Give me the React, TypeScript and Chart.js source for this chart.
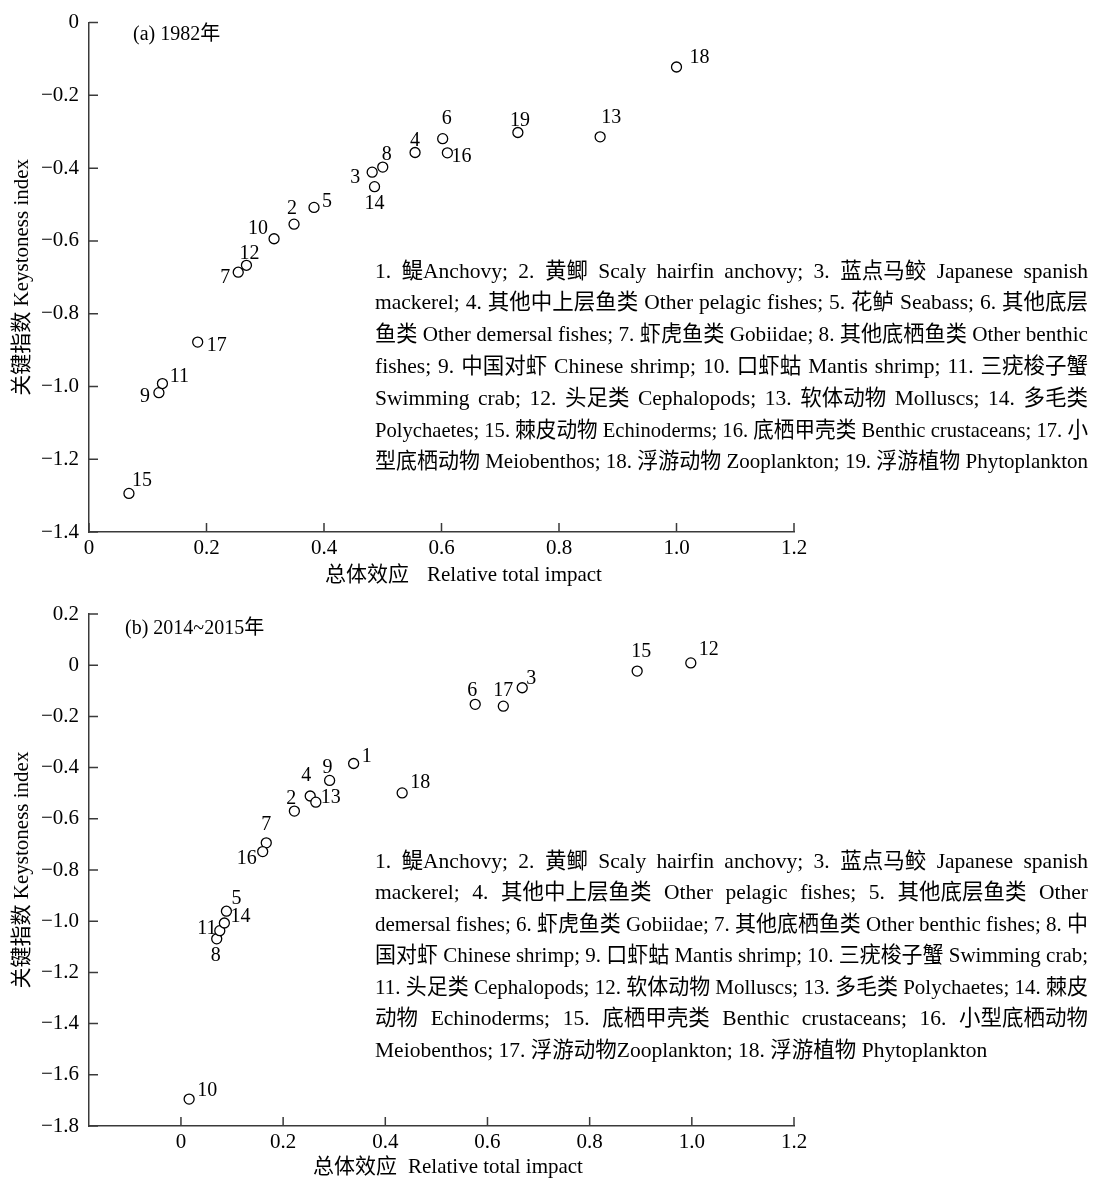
import React, { useEffect, useRef } from 'react';
import { Chart, registerables } from 'chart.js';

Chart.register(...registerables);

const SERIF = '"Liberation Serif", "Times New Roman", "Noto Sans CJK SC", serif';
const AXIS = '#3a3a3a';

// ---------- Panel (a) 1982 ----------
const labelsA = ['2', '3', '4', '5', '6', '7', '8', '9', '10', '11', '12', '13', '14', '15', '16', '17', '18', '19'];
const impactA = [0.349, 0.482, 0.555, 0.383, 0.602, 0.254, 0.5, 0.119, 0.315, 0.125, 0.268, 0.87, 0.486, 0.068, 0.61, 0.185, 1.0, 0.73];
const keystoneA = [-0.554, -0.411, -0.357, -0.508, -0.319, -0.686, -0.397, -1.017, -0.594, -0.992, -0.667, -0.314, -0.451, -1.294, -0.358, -0.878, -0.122, -0.302];
const labelOffsetsA: [number, number][] = [
  [-2, -15], [-17, 6], [0, -12], [13, -6], [4, -20], [-13, 6], [4, -12], [-14, 4], [-16, -10],
  [17, -7], [3, -12], [11, -19], [0, 17], [13, -13], [14, 4], [19, 4], [23, -9], [2, -12],
];
const xTicksA = [0, 0.2, 0.4, 0.6, 0.8, 1.0, 1.2];
const yTicksA = [0, -0.2, -0.4, -0.6, -0.8, -1.0, -1.2, -1.4];
const legendA = [
  '1. 鳀Anchovy; 2. 黄鲫 Scaly hairfin anchovy; 3. 蓝点马鲛 Japanese spanish',
  'mackerel; 4. 其他中上层鱼类 Other pelagic fishes; 5. 花鲈 Seabass; 6. 其他底层',
  '鱼类 Other demersal fishes; 7. 虾虎鱼类 Gobiidae; 8. 其他底栖鱼类 Other benthic',
  'fishes; 9. 中国对虾 Chinese shrimp; 10. 口虾蛄 Mantis shrimp; 11. 三疣梭子蟹',
  'Swimming crab; 12. 头足类 Cephalopods; 13. 软体动物 Molluscs; 14. 多毛类',
  'Polychaetes; 15. 棘皮动物 Echinoderms; 16. 底栖甲壳类 Benthic crustaceans; 17. 小',
  '型底栖动物 Meiobenthos; 18. 浮游动物 Zooplankton; 19. 浮游植物 Phytoplankton',
];

// ---------- Panel (b) 2014~2015 ----------
const labelsB = ['1', '2', '3', '4', '5', '6', '7', '8', '9', '10', '11', '12', '13', '14', '15', '16', '17', '18'];
const impactB = [0.338, 0.222, 0.668, 0.253, 0.089, 0.576, 0.167, 0.07, 0.291, 0.016, 0.076, 0.998, 0.264, 0.085, 0.893, 0.16, 0.631, 0.433];
const keystoneB = [-0.384, -0.57, -0.088, -0.511, -0.961, -0.153, -0.694, -1.069, -0.45, -1.695, -1.037, 0.009, -0.535, -1.007, -0.023, -0.728, -0.16, -0.499];
const labelOffsetsB: [number, number][] = [
  [13, -7], [-3, -12], [9, -9], [-4, -20], [10, -12], [-3, -14], [0, -18], [-1, 17], [-2, -13],
  [18, -8], [-13, -2], [18, -13], [15, -4], [16, -6], [4, -19], [-16, 7], [0, -15], [18, -10],
];
const xTicksB = [0, 0.2, 0.4, 0.6, 0.8, 1.0, 1.2];
const yTicksB = [0.2, 0, -0.2, -0.4, -0.6, -0.8, -1.0, -1.2, -1.4, -1.6, -1.8];
const legendB = [
  '1. 鳀Anchovy; 2. 黄鲫 Scaly hairfin anchovy; 3. 蓝点马鲛 Japanese spanish',
  'mackerel; 4. 其他中上层鱼类 Other pelagic fishes; 5. 其他底层鱼类 Other',
  'demersal fishes; 6. 虾虎鱼类 Gobiidae; 7. 其他底栖鱼类 Other benthic fishes; 8. 中',
  '国对虾 Chinese shrimp; 9. 口虾蛄 Mantis shrimp; 10. 三疣梭子蟹 Swimming crab;',
  '11. 头足类 Cephalopods; 12. 软体动物 Molluscs; 13. 多毛类 Polychaetes; 14. 棘皮',
  '动物 Echinoderms; 15. 底栖甲壳类 Benthic crustaceans; 16. 小型底栖动物',
  'Meiobenthos; 17. 浮游动物Zooplankton; 18. 浮游植物 Phytoplankton',
];

const Y_TITLE = '关键指数 Keystoness index';
const X_TITLE_CN = '总体效应';
const X_TITLE_EN = 'Relative total impact';

const fmt = (v: number) => {
  const s = Math.abs(v) < 1e-9 ? '0' : v.toFixed(1);
  return s.replace('-', '\u2212');
};

function drawJustified(ctx: CanvasRenderingContext2D, text: string, x: number, y: number, width: number, justify: boolean) {
  const natural = ctx.measureText(text).width;
  if (natural >= width || !justify) {
    if (natural > width) {
      ctx.save();
      ctx.translate(x, y);
      ctx.scale(width / natural, 1);
      ctx.fillText(text, 0, 0);
      ctx.restore();
    } else {
      ctx.fillText(text, x, y);
    }
    return;
  }
  const words = text.split(' ');
  const gaps = words.length - 1;
  const wordsW = words.reduce((s, w) => s + ctx.measureText(w).width, 0);
  const gap = (width - wordsW) / gaps;
  let cx = x;
  for (const w of words) {
    ctx.fillText(w, cx, y);
    cx += ctx.measureText(w).width + gap;
  }
}

interface PanelCfg {
  height: number;
  padTop: number;
  xAxisH: number;
  xMin: number;
  xMax: number;
  yMin: number;
  yMax: number;
  xTicks: number[];
  yTicks: number[];
  labels: string[];
  xs: number[];
  ys: number[];
  offsets: [number, number][];
  title: string;
  titleX: number;
  titleY: number;
  xTitleCnX: number;
  xTitleEnX: number;
  xTitleY: number;
  legend: string[];
  legendX: number;
  legendW: number;
  legendY0: number;
  legendStep: number;
  justifyLast: boolean;
}

function makeChart(canvas: HTMLCanvasElement, cfg: PanelCfg) {
  const overlay = {
    id: 'overlay',
    afterDraw(chart: any) {
      const ctx: CanvasRenderingContext2D = chart.ctx;
      const xs = chart.scales.x;
      const ys = chart.scales.y;
      const area = chart.chartArea;
      ctx.save();
      // inward tick marks
      ctx.strokeStyle = AXIS;
      ctx.lineWidth = 1.5;
      ctx.beginPath();
      for (const v of cfg.xTicks) {
        const px = xs.getPixelForValue(v);
        ctx.moveTo(px, area.bottom);
        ctx.lineTo(px, area.bottom - 9);
      }
      for (const v of cfg.yTicks) {
        const py = ys.getPixelForValue(v);
        ctx.moveTo(area.left, py);
        ctx.lineTo(area.left + 9, py);
      }
      ctx.stroke();

      // point labels
      ctx.fillStyle = '#000';
      ctx.font = `20px ${SERIF}`;
      ctx.textAlign = 'center';
      ctx.textBaseline = 'middle';
      cfg.labels.forEach((lab, i) => {
        const px = xs.getPixelForValue(cfg.xs[i]);
        const py = ys.getPixelForValue(cfg.ys[i]);
        const [dx, dy] = cfg.offsets[i];
        ctx.fillText(lab, px + dx, py + dy);
      });

      // panel title
      ctx.textAlign = 'left';
      ctx.font = `20px ${SERIF}`;
      ctx.fillText(cfg.title, cfg.titleX, cfg.titleY);

      // x title
      ctx.font = `21px ${SERIF}`;
      ctx.fillText(X_TITLE_CN, cfg.xTitleCnX, cfg.xTitleY);
      ctx.fillText(X_TITLE_EN, cfg.xTitleEnX, cfg.xTitleY);

      // y title
      ctx.save();
      ctx.translate(22, (area.top + area.bottom) / 2);
      ctx.rotate(-Math.PI / 2);
      ctx.textAlign = 'center';
      ctx.fillText(Y_TITLE, 0, 0);
      ctx.restore();

      // legend text block
      ctx.font = `21.5px ${SERIF}`;
      ctx.textAlign = 'left';
      cfg.legend.forEach((line, i) => {
        const last = i === cfg.legend.length - 1;
        drawJustified(ctx, line, cfg.legendX, cfg.legendY0 + i * cfg.legendStep, cfg.legendW, !last || cfg.justifyLast);
      });
      ctx.restore();
    },
  };

  const points = cfg.xs.map((x, i) => ({ x, y: cfg.ys[i] }));

  return new Chart(canvas, {
    type: 'scatter',
    data: {
      datasets: [
        {
          data: points,
          pointStyle: 'circle',
          pointRadius: 5,
          pointHoverRadius: 5,
          pointBorderWidth: 1.3,
          pointBorderColor: '#000',
          pointBackgroundColor: '#fff',
        },
      ],
    },
    options: {
      animation: false,
      responsive: false,
      maintainAspectRatio: false,
      events: [],
      layout: { padding: { left: 0, top: cfg.padTop, right: 301, bottom: 0 } },
      plugins: { legend: { display: false }, tooltip: { enabled: false } },
      scales: {
        x: {
          type: 'linear',
          min: cfg.xMin,
          max: cfg.xMax,
          afterFit: (s: any) => {
            s.height = cfg.xAxisH;
          },
          afterBuildTicks: (s: any) => {
            s.ticks = cfg.xTicks.map((v) => ({ value: v }));
          },
          grid: { display: false, drawTicks: false },
          border: { display: true, color: AXIS, width: 1.5 },
          ticks: {
            font: { family: SERIF, size: 21 },
            color: '#000',
            padding: 4,
            maxRotation: 0,
            autoSkip: false,
            callback: (v: any) => fmt(Number(v)),
          },
        },
        y: {
          type: 'linear',
          min: cfg.yMin,
          max: cfg.yMax,
          afterFit: (s: any) => {
            s.width = 89;
          },
          afterBuildTicks: (s: any) => {
            s.ticks = cfg.yTicks.map((v) => ({ value: v }));
          },
          grid: { display: false, drawTicks: false },
          border: { display: true, color: AXIS, width: 1.5 },
          ticks: {
            font: { family: SERIF, size: 21 },
            color: '#000',
            padding: 10,
            autoSkip: false,
            callback: (v: any) => fmt(Number(v)),
          },
        },
      },
    },
    plugins: [overlay],
  } as any);
}

const cfgA: PanelCfg = {
  height: 590,
  padTop: 17,
  xAxisH: 58,
  xMin: 0,
  xMax: 1.2,
  yMin: -1.4,
  yMax: 0,
  xTicks: xTicksA,
  yTicks: yTicksA,
  labels: labelsA,
  xs: impactA,
  ys: keystoneA,
  offsets: labelOffsetsA,
  title: '(a) 1982年',
  titleX: 133,
  titleY: 35,
  xTitleCnX: 325,
  xTitleEnX: 427,
  xTitleY: 575,
  legend: legendA,
  legendX: 375,
  legendW: 713,
  legendY0: 272,
  legendStep: 31.8,
  justifyLast: true,
};

const cfgB: PanelCfg = {
  height: 588,
  padTop: 24,
  xAxisH: 52,
  xMin: -0.18,
  xMax: 1.2,
  yMin: -1.8,
  yMax: 0.2,
  xTicks: xTicksB,
  yTicks: yTicksB,
  labels: labelsB,
  xs: impactB,
  ys: keystoneB,
  offsets: labelOffsetsB,
  title: '(b) 2014~2015年',
  titleX: 125,
  titleY: 39,
  xTitleCnX: 313,
  xTitleEnX: 408,
  xTitleY: 577,
  legend: legendB,
  legendX: 375,
  legendW: 713,
  legendY0: 272,
  legendStep: 31.5,
  justifyLast: false,
};

function Panel({ cfg, top }: { cfg: PanelCfg; top: number }) {
  const ref = useRef<HTMLCanvasElement | null>(null);
  useEffect(() => {
    if (!ref.current) return;
    const chart = makeChart(ref.current, cfg);
    return () => chart.destroy();
  }, [cfg]);
  return (
    <canvas
      ref={ref}
      width={1095}
      height={cfg.height}
      style={{ position: 'absolute', left: 0, top, width: 1095, height: cfg.height, display: 'block' }}
    />
  );
}

export default function App() {
  return (
    <div style={{ position: 'absolute', left: 0, top: 0, width: 1095, height: 1178, background: '#fff' }}>
      <Panel cfg={cfgA} top={0} />
      <Panel cfg={cfgB} top={590} />
    </div>
  );
}
